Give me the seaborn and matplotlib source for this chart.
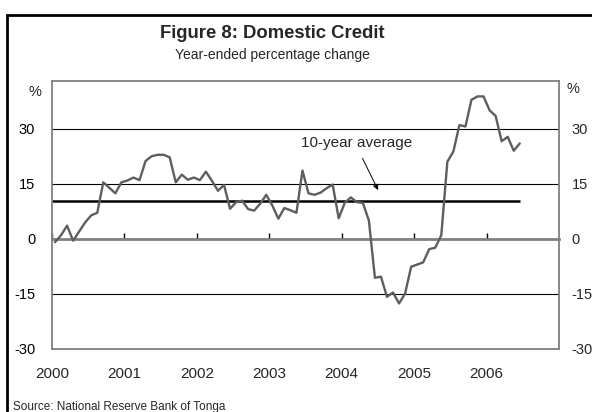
import numpy as np
import pandas as pd
import matplotlib
matplotlib.use("Agg")
import matplotlib.pyplot as plt
from matplotlib.patches import Rectangle
import seaborn as sns

# Monthly year-ended growth in domestic credit, Jan 2000 - Jun 2006 (%)
start_month = "2000-01"
credit_growth = [
    -0.9, 1.0, 3.6, -0.5, 2.0, 4.5, 6.4, 7.1, 15.4, 13.9, 12.4, 15.4,
    15.9, 16.7, 16.0, 21.2, 22.5, 22.9, 22.9, 22.2, 15.4, 17.5, 16.1, 16.7,
    16.0, 18.3, 15.8, 13.1, 14.7, 8.2, 10.0, 10.4, 8.1, 7.7, 9.6, 12.0,
    9.1, 5.5, 8.4, 7.8, 7.1, 18.6, 12.4, 12.0, 12.6, 13.8, 14.8, 5.6,
    9.8, 11.3, 10.0, 9.8, 5.0, -10.6, -10.3, -15.8, -14.6, -17.6, -14.9, -7.6,
    -7.0, -6.4, -2.8, -2.4, 1.0, 21.0, 23.8, 31.0, 30.6, 37.9, 38.8, 38.8,
    35.0, 33.5, 26.6, 27.8, 24.0, 26.0,
]
ten_year_average = 10.2

year_ticks = [2000, 2001, 2002, 2003, 2004, 2005, 2006]
y_ticks = [-30, -15, 0, 15, 30]
y_grid = [-15, 15, 30]

title = "Figure 8: Domestic Credit"
subtitle = "Year-ended percentage change"
source = "Source: National Reserve Bank of Tonga"
avg_label = "10-year average"

# Mid-month positions on a decimal-year axis
months = pd.date_range(start_month, periods=len(credit_growth), freq="MS")
df = pd.DataFrame({
    "year": months.year + (months.month - 0.5) / 12.0,
    "growth": credit_growth,
})

sns.set_style("white")
plt.rcParams["font.family"] = ["Liberation Sans", "DejaVu Sans"]

fig = plt.figure(figsize=(5.92, 4.12), dpi=100)
W, H = 592, 412
ax = fig.add_axes([52 / W, 1 - 349 / H, (559 - 52) / W, (349 - 81) / H])

grey = "#808080"

# Horizontal reference lines
for g in y_grid:
    ax.axhline(g, color="black", lw=0.8, zorder=1)
ax.axhline(-30, color=grey, lw=1.3, zorder=3, clip_on=False)

# 10-year average over the span of the data
ax.hlines(ten_year_average, xmin=year_ticks[0], xmax=df["year"].iloc[-1],
          color="black", lw=1.8, zorder=2)

sns.lineplot(data=df, x="year", y="growth", ax=ax, color="#5e5e5e",
             lw=1.7, zorder=4, legend=False)

ax.set_xlim(2000, 2007)
ax.set_ylim(-30, 43)
ax.set_xlabel("")
ax.set_ylabel("")

# Zero line carries the year tick marks
ax.spines["bottom"].set_position(("data", 0))
ax.spines["bottom"].set_color(grey)
ax.spines["bottom"].set_linewidth(2.0)
ax.spines["bottom"].set_zorder(3)
for s in ("left", "right", "top"):
    ax.spines[s].set_color(grey)
    ax.spines[s].set_linewidth(1.3)

ax.set_xticks(year_ticks)
ax.tick_params(axis="x", direction="in", length=4, width=1.0, color="black",
               labelbottom=False, bottom=True)

ax.set_yticks(y_ticks)
ax.set_yticklabels([str(v) for v in y_ticks])
ax.tick_params(axis="y", length=0, labelsize=10.5, pad=12, labelcolor="black")

# Year labels below the plot area
sec = ax.secondary_xaxis(0.0)
sec.set_xticks(year_ticks)
sec.set_xticklabels([str(y) for y in year_ticks])
sec.tick_params(length=0, labelsize=11, pad=13)
sec.spines["bottom"].set_visible(False)

# Right-hand duplicate scale
axr = ax.twinx()
axr.set_ylim(ax.get_ylim())
axr.set_yticks(y_ticks)
axr.set_yticklabels([str(v) for v in y_ticks])
axr.tick_params(axis="y", length=0, labelsize=10.5, pad=9)
for s in axr.spines.values():
    s.set_visible(False)
axr.grid(False)

ax.text(-0.033, 0.958, "%", transform=ax.transAxes, ha="center", va="center",
        fontsize=10.5)
axr.text(1.028, 0.972, "%", transform=ax.transAxes, ha="center", va="center",
         fontsize=10.5)

# Average annotation
ax.annotate("", xy=(2004.52, 12.6), xytext=(2004.27, 22.6),
            arrowprops=dict(arrowstyle="-|>", color="black", lw=0.7,
                            mutation_scale=8))
ax.text(2004.21, 26.2, avg_label, ha="center", va="center", fontsize=11)

# Titles and source
fig.text(272 / W, 1 - 34 / H, title, ha="center", va="center",
         fontsize=13.3, fontweight="bold")
fig.text(272 / W, 1 - 55 / H, subtitle, ha="center", va="center",
         fontsize=10)
fig.text(13 / W, 2 / H, source, ha="left", va="baseline", fontsize=8.5)

# Heavy frame around the figure
fig.patches.append(Rectangle((6.5 / W, -0.05), 1.2, 1 - 14.5 / H + 0.05,
                             transform=fig.transFigure, fill=False,
                             edgecolor="black", lw=2.0, clip_on=False))

fig.savefig("out.png", dpi=100)
